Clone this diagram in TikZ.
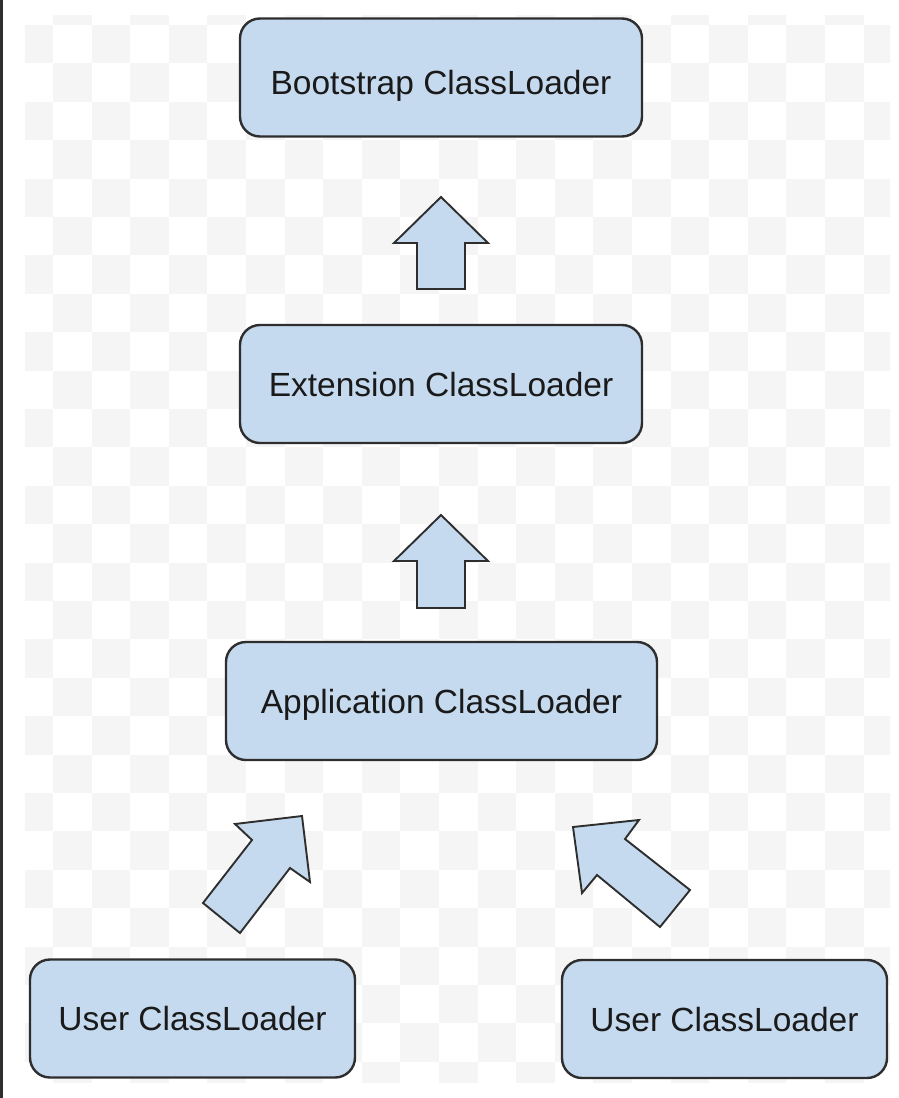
\documentclass[tikz,border=0pt]{standalone}
\usepackage{fontspec}
\setmainfont{Liberation Sans}
\definecolor{boxfill}{HTML}{C6DAEF}
\definecolor{boxline}{HTML}{2E2E2E}
\definecolor{checker}{HTML}{F5F5F5}
\definecolor{txt}{HTML}{1A1A1A}
\begin{document}
\begin{tikzpicture}[x=1pt,y=-1pt,
  loader/.style={draw=boxline, line width=2.4pt, fill=boxfill, rounded corners=20pt,
    text=txt, font=\fontsize{33.5}{40}\selectfont, inner sep=0pt, minimum height=118pt,
    text height=24pt, text depth=0pt},
  blockarrow/.style={draw=boxline, line width=1.9pt, fill=boxfill, line join=miter}]
\useasboundingbox (0,0) rectangle (899,1098);
\fill[white] (0,0) rectangle (899,1098);
% faint checkered background
\begin{scope}
\clip (25,15) rectangle (890,1082);
\foreach \i in {-1,...,22}{
  \foreach \j in {-1,...,28}{
    \pgfmathtruncatemacro\p{mod(\i+\j+10,2)}
    \ifnum\p=0
      \fill[checker] ({53+(\i-1)*38.6},{25+\j*38.4}) rectangle ++(38.6,38.4);
    \fi
  }
}
\end{scope}
% left border line
\fill[boxline] (0,0) rectangle (2.5,1098);
% boxes
\node[loader, minimum width=402pt, text height=34pt] (boot) at (441,77.5) {Bootstrap ClassLoader};
\node[loader, minimum width=402pt] (ext) at (441,384) {Extension ClassLoader};
\node[loader, minimum width=431pt] (app) at (441.5,701) {Application ClassLoader};
\node[loader, minimum width=325pt] (u1) at (192.5,1018.5) {User ClassLoader};
\node[loader, minimum width=325pt] (u2) at (724.5,1019) {User ClassLoader};
% block arrows
\draw[blockarrow] (441,197) -- (488,243) -- (465,243) -- (465,289) -- (417,289) -- (417,243) -- (394,243) -- cycle;
\draw[blockarrow] (441,515) -- (488,561) -- (465,561) -- (465,608) -- (417,608) -- (417,561) -- (394,561) -- cycle;
\draw[blockarrow] (302,816) -- (310,882) -- (290,868) -- (240,933) -- (203,903) -- (252,840) -- (235,824) -- cycle;
\draw[blockarrow] (573,827) -- (582,893) -- (597,875) -- (660,927) -- (690,890) -- (625,839) -- (639,820) -- cycle;
\end{tikzpicture}
\end{document}
